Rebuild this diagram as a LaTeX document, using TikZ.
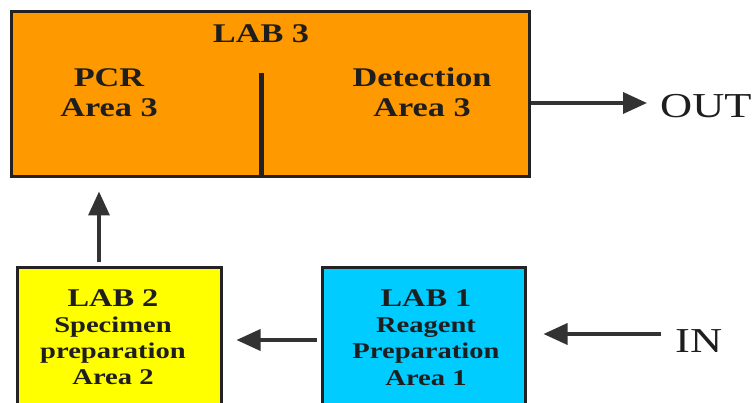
\documentclass[tikz,border=0pt]{standalone}
\usepackage{fontspec}
\setmainfont[FakeStretch=1.27]{Liberation Serif}
\usetikzlibrary{arrows.meta}
\definecolor{laborange}{HTML}{FF9900}
\definecolor{labyellow}{HTML}{FFFF00}
\definecolor{labcyan}{HTML}{00CCFF}
\definecolor{boxline}{HTML}{222222}
\definecolor{txt}{HTML}{1E1E1E}
\definecolor{arrc}{HTML}{333333}
\tikzset{
  labbox/.style={draw=boxline, line width=3pt, inner sep=0pt},
  bigtxt/.style={font=\bfseries\fontsize{27}{30}\selectfont, text=txt, inner sep=0pt, anchor=base},
  headtxt/.style={font=\bfseries\fontsize{25.5}{28}\selectfont, text=txt, inner sep=0pt, anchor=base},
  subtxt/.style={font=\bfseries\fontsize{22.5}{25}\selectfont, text=txt, inner sep=0pt, anchor=base},
  lbltxt/.style={font=\fontsize{35}{38}\selectfont, text=txt, inner sep=0pt, anchor=base west},
  arr/.style={draw=arrc, line width=3.5pt, -{Triangle[length=24pt,width=21pt]}},
}
\begin{document}
\begin{tikzpicture}[x=1pt,y=-1pt]
\clip (0,0) rectangle (753,403);
\fill[white] (0,0) rectangle (753,403);
% boxes
\node[labbox, fill=laborange, minimum width=518pt, minimum height=165pt] (lab3) at (270,94.5) {};
\node[labbox, fill=labyellow, minimum width=204pt, minimum height=160pt] (lab2) at (119,348) {};
\node[labbox, fill=labcyan, minimum width=203pt, minimum height=160pt] (lab1) at (423.5,348) {};
% divider
\coordinate (divtop) at (261,73);
\draw[boxline, line width=5pt] (divtop) -- (divtop |- lab3.south);
% Lab 3 texts
\node[bigtxt] (t3) at (261,43) {LAB 3};
\node[bigtxt] (pcr) at (109,87) {PCR};
\node[bigtxt] (pcra) at (109,117) {Area 3};
\node[bigtxt] (det) at (422,87) {Detection};
\node[bigtxt] (deta) at (422,117) {Area 3};
% Lab 2 texts
\node[headtxt] (t2) at (113,307) {LAB 2};
\node[subtxt] (spec) at (113,333) {Specimen};
\node[subtxt] (prep) at (113,359) {preparation};
\node[subtxt] (a2) at (113,385) {Area 2};
% Lab 1 texts
\node[headtxt] (t1) at (426,307) {LAB 1};
\node[subtxt] (reag) at (426,333) {Reagent};
\node[subtxt] (prep1) at (426,359) {Preparation};
\node[subtxt] (a1) at (426,386) {Area 1};
% labels
\node[lbltxt] (out) at (660,118) {OUT};
\node[lbltxt] (in) at (675,353) {IN};
% connectors
\coordinate (outend) at (647,103);
\draw[arr] (lab3.east |- outend) -- (outend);
\coordinate (inend) at (661,334);
\draw[arr] (inend) -- ([xshift=17pt]lab1.east |- inend);
\coordinate (mid) at (317,340);
\draw[arr] (mid) -- ([xshift=14pt]lab2.east |- mid);
\coordinate (up) at (99,262);
\draw[arr, shorten >=13pt] (up) -- (up |- lab3.south);
\end{tikzpicture}
\end{document}
